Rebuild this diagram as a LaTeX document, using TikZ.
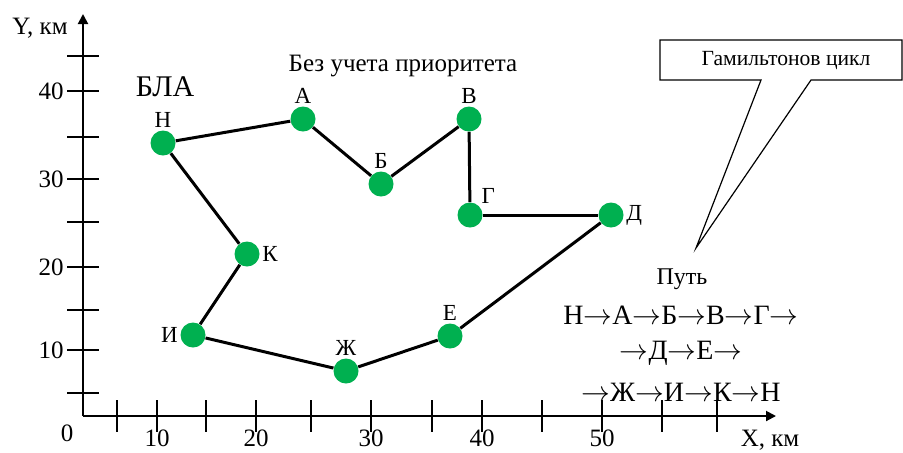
\documentclass[tikz,border=0pt]{standalone}
\usepackage{fontspec}
\setmainfont{Liberation Serif}
\usetikzlibrary{arrows.meta}
\definecolor{ptgreen}{RGB}{0,176,80}
\newcommand{\rto}{$\rightarrow$}

\begin{document}
\begin{tikzpicture}[x=0.5pt, y=-0.5pt,
    wp/.style={circle, fill=ptgreen, minimum size=12.5pt, inner sep=0pt},
    lbl/.style={font=\fontsize{11.5}{13}\selectfont, inner sep=1pt},
    num/.style={font=\fontsize{12.5}{14}\selectfont, inner sep=1pt},
    txt/.style={font=\fontsize{14}{16}\selectfont, inner sep=0pt},
    axis/.style={line width=1pt, -{Triangle[length=5pt, width=5pt]}},
    tk/.style={line width=0.75pt},
    route/.style={line width=1.5pt}
  ]
  \useasboundingbox (0,0) rectangle (903,452);

  % axes
  \coordinate (o) at (83,416);
  \coordinate (ytop) at (83,14);
  \coordinate (xend) at (776,416);
  \draw[axis] (o) -- (ytop);
  \draw[axis] (o) -- (xend);
  \foreach \y in {56,91,137,179,222,267,310,350,393}
    \draw[tk] (67,\y) -- (99,\y);
  \foreach \x in {117,157,206,256,311,371,432,482,542,602,662,717}
    \draw[tk] (\x,400) -- (\x,432);

  % axis labels
  \foreach \v/\y in {40/91,30/179,20/267,10/350}
    \node[num, anchor=east] (y\v) at (66,\y) {\v};
  \foreach \v/\x in {10/157,20/256,30/371,40/482,50/602}
    \node[num, anchor=north, inner sep=0pt] (x\v) at (\x,429) {\v};
  \node[num] (zero) at (67,433) {0};
  \node[num] (ylab) at (40,28) {Y, км};
  \node[num] (xlab) at (770,440) {X, км};

  % titles
  \node[font=\fontsize{15}{17}\selectfont] (bla) at (165,87) {БЛА};
  \node[num] (title) at (403,66) {Без учета приоритета};

  % waypoints
  \node[wp, label={[lbl]above:Н}] (n)  at (163,143) {};
  \node[wp, label={[lbl]above:А}] (a)  at (303,119) {};
  \node[wp, label={[lbl]above:Б}] (b)  at (381,184) {};
  \node[wp, label={[lbl]above:В}] (v)  at (469,119) {};
  \node[wp, label={[lbl]above right:Г}] (g)  at (470,215) {};
  \node[wp, label={[lbl]right:Д}] (d)  at (611,215) {};
  \node[wp, label={[lbl]above:Е}] (e)  at (450,336) {};
  \node[wp, label={[lbl]above:Ж}] (zh) at (346,371) {};
  \node[wp, label={[lbl]left:И}] (i)  at (193,335) {};
  \node[wp, label={[lbl]right:К}] (k)  at (247,254) {};

  % route
  \foreach \s/\t in {n/a,a/b,b/v,v/g,g/d,d/e,e/zh,zh/i,i/k,k/n}
    \draw[route] (\s) -- (\t);

  % callout
  \node[font=\fontsize{10.8}{12}\selectfont] (callout) at (786,61) {Гамильтонов цикл};
  \draw[line width=0.6pt] (660,40) -- (902,40) -- (902,80) -- (811,80)
    -- (696,248) -- (761,80) -- (660,80) -- cycle;

  % path text
  \node[num, font=\fontsize{12}{14}\selectfont] (put) at (682,279) {Путь};
  \node[txt] (p1) at (681,315) {Н\rto А\rto Б\rto В\rto Г\rto};
  \node[txt] (p2) at (681,353) {\rto Д\rto Е\rto};
  \node[txt] (p3) at (681,392) {\rto Ж\rto И\rto К\rto Н};
\end{tikzpicture}
\end{document}
